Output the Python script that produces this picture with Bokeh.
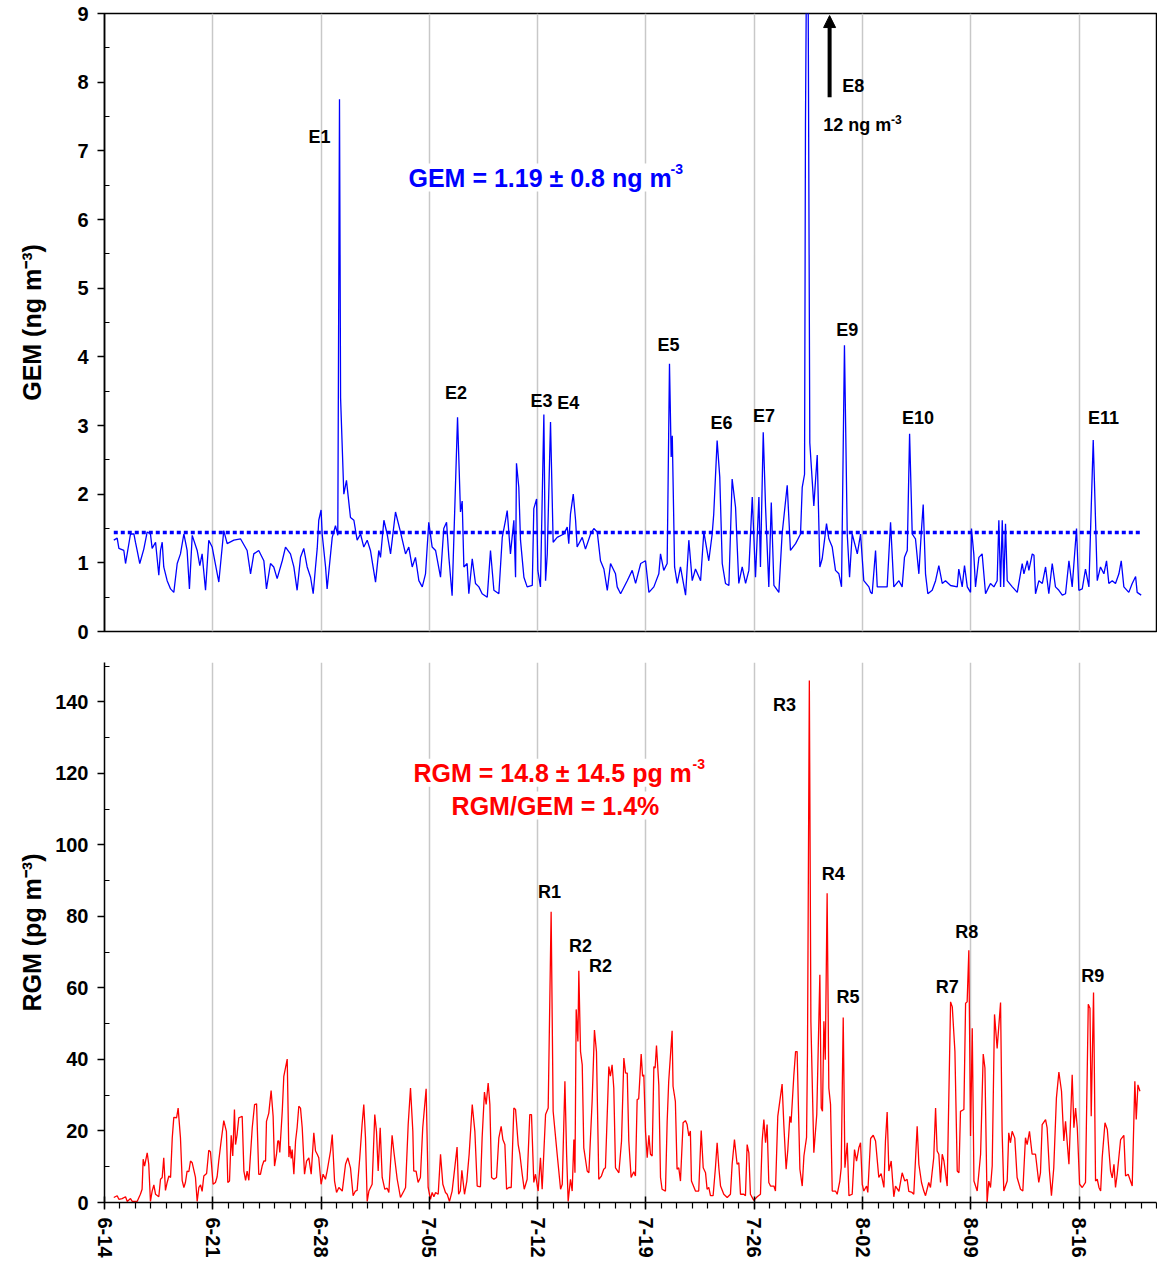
import math
from bokeh.plotting import figure
from bokeh.layouts import column
from bokeh.models import FixedTicker, Label, Arrow, NormalHead
from bokeh.embed import file_html
from bokeh.resources import INLINE

FONT = "Liberation Sans"

# ---------------- data ----------------
week_labels = ["6-14", "6-21", "6-28", "7-05", "7-12", "7-19", "7-26", "8-02", "8-09", "8-16"]
week_days = [0, 7, 14, 21, 28, 35, 42, 49, 56, 63]
day_ticks = list(range(0, 69))

# GEM (ng m-3); time in days since 14 June
gem_day = [0.60, 0.82, 0.93, 1.25, 1.36, 1.68, 1.90, 2.00, 2.11, 2.28, 2.54, 2.76, 2.97, 3.08, 3.30, 3.51,
           3.62, 3.73, 3.83, 4.05, 4.27, 4.48, 4.70, 4.91, 5.13, 5.34, 5.49, 5.67, 5.99, 6.16, 6.31, 6.53,
           6.74, 6.96, 7.39, 7.71, 7.93, 8.36, 8.79, 9.22, 9.44, 9.65, 9.97, 10.30, 10.47, 10.73, 10.94,
           11.16, 11.49, 11.70, 12.02, 12.24, 12.45, 12.67, 12.88, 13.10, 13.32, 13.49, 13.64, 13.75, 13.85,
           14.00, 14.07, 14.29, 14.39, 14.72, 14.93, 15.08, 15.19, 15.26, 15.47, 15.64, 15.90, 16.12, 16.33,
           16.55, 16.76, 16.98, 17.19, 17.52, 17.73, 17.84, 18.06, 18.27, 18.49, 18.81, 19.13, 19.46, 19.67,
           19.89, 20.10, 20.32, 20.54, 20.75, 20.96, 21.18, 21.40, 21.72, 21.93, 22.11, 22.26, 22.47, 22.82,
           23.01, 23.12, 23.23, 23.44, 23.55, 23.77, 23.98, 24.20, 24.41, 24.74, 24.95, 25.17, 25.49, 25.71,
           25.92, 26.03, 26.24, 26.46, 26.57, 26.63, 26.78, 26.89, 27.11, 27.32, 27.65, 27.75, 27.93, 28.01,
           28.18, 28.40, 28.51, 28.62, 28.83, 29.00, 29.26, 29.69, 29.91, 30.01, 30.12, 30.30, 30.45, 30.55,
           30.88, 31.09, 31.42, 31.63, 31.85, 32.06, 32.28, 32.50, 32.71, 33.03, 33.14, 33.36, 33.79, 34.11,
           34.33, 34.66, 34.97, 35.19, 35.51, 35.83, 35.94, 36.15, 36.37, 36.52, 36.63, 36.70, 36.85, 37.02,
           37.23, 37.56, 37.77, 37.99, 38.20, 38.53, 38.74, 39.06, 39.28, 39.38, 39.60, 39.77, 39.93, 40.14,
           40.36, 40.57, 40.79, 41.00, 41.22, 41.44, 41.65, 41.87, 42.08, 42.30, 42.40, 42.58, 42.73, 42.94,
           43.10, 43.27, 43.59, 43.80, 44.13, 44.34, 44.67, 44.99, 45.10, 45.25, 45.31, 45.44, 45.59, 45.85,
           46.07, 46.24, 46.39, 46.54, 46.67, 46.82, 47.04, 47.25, 47.47, 47.64, 47.83, 48.01, 48.16, 48.33,
           48.55, 48.66, 48.87, 49.08, 49.41, 49.52, 49.62, 49.84, 49.95, 50.27, 50.59, 50.81, 51.02, 51.35,
           51.56, 51.71, 51.89, 52.04, 52.21, 52.42, 52.64, 52.79, 52.92, 53.07, 53.22, 53.50, 53.72, 53.93,
           54.15, 54.36, 54.69, 55.12, 55.22, 55.44, 55.59, 55.77, 55.98, 56.04, 56.19, 56.30, 56.52, 56.73,
           56.95, 57.16, 57.27, 57.49, 57.70, 57.81, 57.92, 58.03, 58.13, 58.24, 58.35, 58.68, 59.00, 59.32,
           59.43, 59.65, 59.75, 59.97, 60.08, 60.18, 60.40, 60.62, 60.83, 61.04, 61.26, 61.47, 61.69, 61.91,
           62.12, 62.34, 62.55, 62.83, 62.98, 63.20, 63.41, 63.63, 63.91, 64.17, 64.38, 64.60, 64.77, 64.92,
           65.14, 65.35, 65.57, 65.72, 65.89, 66.21, 66.43, 66.65, 66.75, 67.01]
gem_val = [1.33, 1.36, 1.21, 1.18, 0.99, 1.42, 1.42, 1.30, 1.18, 0.99, 1.20, 1.45, 1.42, 1.21, 1.30, 0.82,
           1.18, 1.30, 0.94, 0.74, 0.62, 0.57, 0.99, 1.13, 1.42, 1.18, 0.62, 1.40, 1.18, 0.96, 1.13, 0.60,
           1.33, 1.23, 0.72, 1.47, 1.28, 1.33, 1.35, 1.18, 0.84, 1.13, 1.18, 1.03, 0.62, 0.99, 0.94,
           0.77, 1.03, 1.23, 1.13, 0.94, 0.60, 1.08, 1.21, 0.94, 0.79, 0.55, 0.94, 1.21, 1.62,
           1.77, 1.42, 0.94, 0.62, 1.37, 1.54, 1.40, 7.75, 3.40, 2.00, 2.20, 1.66, 1.62, 1.33,
           1.42, 1.23, 1.33, 1.18, 0.72, 1.18, 1.08, 1.62, 1.42, 1.13, 1.74, 1.45, 1.13, 1.23,
           0.94, 1.08, 0.74, 0.65, 0.84, 1.59, 1.23, 1.18, 0.79, 1.50, 1.59, 1.08, 0.52, 3.12,
           1.74, 1.90, 0.94, 0.99, 0.55, 1.06, 0.70, 0.65, 0.55, 0.50, 1.18, 0.60, 0.55, 1.37,
           1.62, 1.76, 1.13, 1.62, 0.79, 2.45, 2.10, 1.33, 0.79, 0.65, 0.67, 1.79, 1.93, 0.89,
           0.65, 3.16, 0.74, 1.13, 3.05, 1.30, 1.37, 1.42, 1.52, 1.28, 1.71, 2.00, 1.62, 1.23,
           1.37, 1.20, 1.42, 1.50, 1.45, 1.03, 0.91, 0.60, 0.99, 0.84, 0.65, 0.55, 0.74, 0.89,
           0.70, 0.99, 1.03, 0.57, 0.65, 0.84, 1.13, 0.89, 0.99, 3.90, 2.54, 2.85, 0.94, 0.70,
           0.94, 0.53, 1.33, 0.74, 0.91, 0.74, 1.45, 1.03, 1.42, 1.71, 2.78, 2.25, 0.99, 0.70,
           0.67, 2.22, 1.81, 0.70, 0.94, 0.70, 0.89, 1.96, 0.79, 1.96, 0.94, 2.90, 1.81, 0.65,
           1.88, 0.67, 0.57, 1.42, 2.13, 1.18, 1.28, 1.42, 2.10, 2.29, 7.40, 12.0, 2.75, 1.83,
           2.57, 0.94, 1.06, 1.33, 1.57, 1.35, 1.23, 0.89, 0.84, 0.65, 4.17, 1.42, 0.79, 1.42,
           1.23, 1.13, 1.42, 0.74, 0.65, 0.57, 0.55, 1.18, 0.65, 0.65, 0.65, 1.59, 0.65, 0.74,
           0.65, 1.08, 1.18, 2.88, 1.42, 1.35, 0.84, 1.42, 1.85, 0.84, 0.55, 0.60, 0.74, 0.96,
           0.70, 0.74, 0.67, 0.65, 0.91, 0.65, 0.96, 0.65, 0.57, 1.50, 1.13, 0.65, 1.08, 1.13,
           0.55, 0.65, 0.70, 0.65, 0.74, 1.62, 0.65, 1.62, 0.65, 1.57, 0.74, 0.65, 0.57, 0.99,
           0.84, 1.03, 0.89, 1.13, 1.11, 0.55, 0.74, 0.70, 0.94, 0.55, 0.99, 0.65, 0.60, 0.53,
           0.55, 1.03, 0.65, 1.50, 0.60, 0.62, 0.91, 0.65, 2.79, 0.74, 0.94, 0.84, 1.03, 0.70,
           0.74, 0.70, 0.84, 1.03, 0.65, 0.57, 0.70, 0.80, 0.57, 0.53]
gem_ref_level = 1.44

# RGM (pg m-3)
rgm_day = [0.60, 0.82, 0.93, 1.14, 1.36, 1.47, 1.68, 1.79, 2.11, 2.32, 2.43, 2.50, 2.59, 2.76, 2.86, 2.97,
           3.08, 3.19, 3.30, 3.51, 3.62, 3.73, 3.83, 3.94, 4.05, 4.16, 4.27, 4.38, 4.48, 4.66, 4.76, 4.91,
           5.02, 5.13, 5.23, 5.34, 5.45, 5.56, 5.67, 5.88, 5.99, 6.10, 6.21, 6.31, 6.42, 6.60, 6.74, 6.85,
           7.02, 7.17, 7.28, 7.39, 7.54, 7.71, 7.88, 7.97, 8.08, 8.19, 8.29, 8.40, 8.47, 8.57, 8.68, 8.90,
           9.01, 9.12, 9.22, 9.33, 9.55, 9.70, 9.83, 9.97, 10.08, 10.19, 10.30, 10.41, 10.47, 10.62, 10.77,
           10.90, 10.99, 11.12, 11.20, 11.27, 11.33, 11.49, 11.59, 11.81, 11.92, 11.98, 12.07, 12.13, 12.24,
           12.35, 12.45, 12.56, 12.67, 12.78, 12.93, 13.06, 13.21, 13.36, 13.53, 13.64, 13.75, 13.85, 14.00,
           14.13, 14.28, 14.39, 14.61, 14.72, 14.87, 15.00, 15.15, 15.37, 15.58, 15.73, 15.90, 16.07, 16.22,
           16.33, 16.50, 16.65, 16.76, 16.87, 16.98, 17.09, 17.30, 17.47, 17.58, 17.69, 17.82, 17.95, 18.12,
           18.27, 18.38, 18.59, 18.70, 18.92, 19.13, 19.35, 19.46, 19.63, 19.78, 19.93, 19.99, 20.14, 20.27,
           20.42, 20.57, 20.79, 20.92, 21.07, 21.18, 21.29, 21.40, 21.57, 21.72, 21.87, 22.04, 22.15, 22.30,
           22.47, 22.64, 22.79, 22.89, 23.00, 23.10, 23.27, 23.42, 23.57, 23.77, 23.94, 24.09, 24.30, 24.41,
           24.56, 24.67, 24.80, 24.91, 25.02, 25.17, 25.34, 25.49, 25.64, 25.75, 25.88, 25.99, 26.14, 26.29,
           26.46, 26.57, 26.74, 26.85, 27.00, 27.13, 27.32, 27.49, 27.60, 27.75, 27.86, 28.03, 28.18, 28.29,
           28.51, 28.68, 28.87, 29.00, 29.26, 29.48, 29.59, 29.76, 29.87, 29.97, 30.12, 30.23, 30.34, 30.41,
           30.49, 30.60, 30.66, 30.77, 30.88, 30.98, 31.20, 31.31, 31.52, 31.67, 31.80, 31.95, 32.12, 32.27,
           32.38, 32.60, 32.70, 32.81, 32.92, 33.03, 33.25, 33.42, 33.57, 33.68, 33.79, 33.89, 34.04, 34.21,
           34.32, 34.43, 34.53, 34.69, 34.78, 34.86, 34.97, 35.08, 35.19, 35.29, 35.40, 35.51, 35.59, 35.68,
           35.83, 35.94, 36.04, 36.26, 36.37, 36.47, 36.69, 36.75, 36.90, 37.01, 37.12, 37.23, 37.40, 37.55,
           37.66, 37.77, 37.87, 37.94, 38.20, 38.41, 38.57, 38.70, 38.85, 38.95, 39.06, 39.17, 39.34, 39.49,
           39.60, 39.71, 39.82, 40.03, 40.25, 40.46, 40.57, 40.72, 40.89, 41.00, 41.11, 41.32, 41.43, 41.54,
           41.65, 41.75, 41.97, 42.19, 42.40, 42.51, 42.62, 42.73, 42.83, 42.94, 43.05, 43.27, 43.37, 43.52,
           43.80, 43.91, 44.06, 44.17, 44.30, 44.38, 44.56, 44.67, 44.77, 44.95, 45.10, 45.21, 45.38, 45.44,
           45.56, 45.66, 45.85, 46.04, 46.24, 46.33, 46.41, 46.50, 46.59, 46.71, 46.82, 46.93, 47.04, 47.25,
           47.36, 47.53, 47.62, 47.75, 47.86, 48.01, 48.12, 48.33, 48.48, 48.61, 48.76, 48.87, 48.98, 49.08,
           49.26, 49.34, 49.52, 49.69, 49.84, 50.05, 50.20, 50.38, 50.48, 50.59, 50.70, 50.85, 51.02, 51.13,
           51.35, 51.56, 51.73, 51.88, 51.99, 52.20, 52.31, 52.53, 52.64, 52.81, 52.96, 53.07, 53.28, 53.39,
           53.60, 53.72, 53.82, 53.93, 54.04, 54.15, 54.26, 54.47, 54.69, 54.80, 54.97, 55.12, 55.23, 55.33,
           55.55, 55.66, 55.76, 55.87, 55.98, 56.09, 56.20, 56.41, 56.63, 56.80, 56.91, 57.05, 57.16, 57.27,
           57.38, 57.53, 57.70, 57.92, 58.02, 58.13, 58.35, 58.45, 58.56, 58.67, 58.84, 58.99, 59.21, 59.36,
           59.53, 59.64, 59.79, 59.96, 60.18, 60.39, 60.50, 60.61, 60.83, 60.93, 61.08, 61.21, 61.36, 61.53,
           61.69, 61.86, 62.01, 62.12, 62.34, 62.55, 62.66, 62.77, 62.88, 63.03, 63.20, 63.41, 63.59, 63.70,
           63.78, 63.93, 64.06, 64.17, 64.28, 64.39, 64.49, 64.67, 64.82, 65.03, 65.14, 65.25, 65.35, 65.46,
           65.68, 65.89, 66.00, 66.17, 66.43, 66.60, 66.69, 66.80, 66.93]
rgm_val = [1.4, 1.9, 0.9, 1.1, 1.6, 0.3, 1.1, 0.3, 0.3, 2.3, 3.7, 12.1, 10.2, 13.9, 10.7, 0.3,
           3.2, 4.9, 2.3, 1.6, 6.5, 7.0, 12.5, 3.4, 5.6, 7.4, 7.0, 18.1, 23.8, 23.7, 26.4, 18.1,
           6.2, 4.2, 5.6, 8.8, 8.6, 11.6, 11.1, 7.0, 0.3, 4.2, 4.9, 3.1, 7.4, 8.1, 14.6, 14.2,
           5.1, 5.6, 7.2, 11.8, 17.2, 22.9, 19.9, 5.6, 6.0, 18.8, 13.0, 26.0, 16.2, 19.0, 23.7, 24.1,
           8.8, 6.2, 8.8, 6.2, 20.9, 27.4, 27.6, 7.9, 7.9, 10.2, 11.6, 11.6, 22.7, 25.0, 31.3,
           24.1, 10.2, 13.5, 17.2, 17.2, 14.0, 25.5, 35.3, 40.1, 12.7, 15.8, 12.3, 14.8, 7.9,
           17.2, 20.9, 26.9, 26.4, 20.9, 7.9, 11.6, 12.5, 7.9, 19.5, 14.4, 13.5, 12.5, 5.1,
           7.9, 6.5, 8.8, 14.4, 19.0, 6.0, 2.8, 4.2, 3.2, 10.7, 12.5, 9.7, 1.9, 3.2,
           3.4, 12.5, 21.8, 27.4, 18.1, 0.3, 3.2, 5.1, 24.6, 19.9, 8.8, 20.9, 7.0, 3.7,
           4.0, 2.8, 18.8, 14.4, 6.5, 1.4, 3.2, 4.2, 21.8, 32.0, 19.9, 8.8, 8.8, 5.6,
           7.0, 20.9, 31.8, 4.2, 0.9, 2.8, 1.6, 2.8, 2.3, 13.5, 5.1, 2.8, 2.3, 0.3,
           3.2, 9.7, 15.5, 2.3, 3.2, 9.0, 2.3, 6.0, 13.5, 27.4, 19.9, 4.6, 4.4, 18.1,
           30.9, 27.4, 33.4, 27.4, 7.0, 6.5, 7.0, 18.1, 21.3, 17.6, 16.2, 3.7, 4.2, 4.2,
           26.4, 26.0, 16.2, 13.5, 7.9, 3.7, 6.5, 24.6, 24.6, 5.6, 7.9, 3.2, 12.5, 3.7,
           24.6, 26.4, 81.3, 25.5, 13.5, 3.7, 5.1, 33.9, 13.5, 0.3, 6.5, 3.2, 17.6, 8.3,
           54.0, 45.0, 64.8, 42.2, 38.5, 15.3, 8.8, 8.3, 28.3, 48.2, 42.2, 6.5, 7.4, 9.3,
           9.7, 38.0, 35.3, 38.5, 32.0, 9.7, 8.3, 17.2, 40.4, 36.2, 36.2, 17.2, 7.0, 8.6,
           7.4, 28.8, 29.0, 41.5, 35.3, 35.7, 19.9, 12.5, 18.8, 13.5, 13.0, 38.0, 37.6, 43.9,
           32.9, 7.0, 3.7, 3.2, 22.7, 33.9, 48.0, 32.5, 28.3, 9.3, 9.7, 6.0, 22.3, 22.9,
           21.8, 18.6, 20.0, 6.0, 3.2, 3.2, 20.1, 9.7, 8.3, 3.7, 4.2, 1.9, 1.9, 9.7,
           16.7, 9.7, 4.6, 2.3, 1.4, 2.3, 10.7, 17.6, 10.7, 11.1, 2.3, 2.3, 1.9, 16.2,
           13.9, 2.3, 0.6, 1.6, 2.3, 17.2, 23.2, 16.7, 21.8, 5.6, 4.6, 4.6, 3.2, 24.1,
           33.1, 21.8, 9.3, 14.8, 24.1, 22.3, 35.7, 42.2, 42.2, 9.3, 4.6, 13.0, 18.2, 42.0,
           146.0, 50.6, 13.9, 24.6, 63.7, 26.4, 25.5, 50.7, 39.9, 86.5, 32.0, 27.4, 3.2, 3.2,
           2.3, 6.0, 9.7, 51.7, 9.7, 16.7, 1.9, 2.3, 14.8, 11.6, 15.3, 16.7, 5.1, 3.2,
           4.6, 2.8, 17.9, 18.8, 17.2, 7.0, 8.1, 4.2, 17.2, 25.3, 8.8, 11.6, 1.6, 4.6,
           3.1, 8.3, 6.0, 6.5, 3.1, 2.8, 2.3, 21.3, 10.7, 5.6, 3.2, 1.9, 5.6, 4.2,
           12.5, 26.4, 14.4, 13.5, 5.6, 13.5, 11.6, 4.6, 56.1, 54.7, 42.2, 8.8, 8.3, 25.5,
           26.0, 55.7, 56.1, 70.5, 18.6, 48.7, 6.0, 3.2, 13.5, 41.5, 37.6, 0.0, 6.0, 4.2,
           10.2, 52.6, 43.1, 55.9, 19.9, 3.2, 6.0, 19.5, 16.7, 19.9, 18.0, 7.0, 3.7, 3.2,
           18.1, 16.2, 19.9, 13.5, 13.5, 5.6, 8.3, 21.8, 23.2, 20.9, 8.8, 1.9, 9.7, 29.2,
           36.5, 31.1, 17.2, 22.7, 10.7, 35.7, 20.9, 26.4, 20.9, 5.1, 4.2, 5.6, 55.4, 54.3,
           24.1, 58.7, 6.0, 6.5, 4.2, 3.2, 12.5, 22.3, 20.4, 8.8, 6.9, 10.7, 4.2, 7.9,
           17.6, 18.8, 7.4, 7.9, 4.6, 33.9, 23.2, 32.9, 31.1]

# event labels
gem_events = ["E1", "E2", "E3", "E4", "E5", "E6", "E7", "E9", "E10", "E11"]
gem_event_x = [13.90, 22.72, 28.24, 29.98, 36.46, 39.89, 42.63, 48.01, 52.59, 64.57]
gem_event_y = [7.20, 3.478, 3.357, 3.328, 4.177, 3.042, 3.139, 4.396, 3.114, 3.114]

rgm_events = ["R1", "R2", "R2", "R3", "R4", "R5", "R7", "R8", "R9"]
rgm_event_x = [28.77, 30.77, 32.06, 43.96, 47.11, 48.06, 54.47, 55.74, 63.88]
rgm_event_y = [86.9, 71.7, 66.1, 139.0, 91.8, 57.5, 60.3, 75.6, 63.3]

W = 1157
X_END = 68.0


def style_axis(ax, label_size="20px"):
    ax.axis_line_color = "black"
    ax.axis_line_width = 1.5
    ax.major_tick_line_color = "black"
    ax.major_tick_line_width = 1.5
    ax.minor_tick_line_color = "black"
    ax.minor_tick_line_width = 1.2
    ax.major_label_text_font = FONT
    ax.major_label_text_font_style = "bold"
    ax.major_label_text_font_size = label_size
    ax.major_label_text_color = "black"
    ax.axis_label_text_font = FONT
    ax.axis_label_text_font_style = "bold"
    ax.axis_label_text_font_size = "25px"
    ax.axis_label_text_color = "black"


def add_text(p, x, y, text, size="18px", color="black", align="center", bg=None):
    kw = dict(x=x, y=y, text=text, text_font=FONT, text_font_style="bold",
              text_font_size=size, text_color=color, text_align=align,
              text_baseline="alphabetic")
    if bg:
        kw["background_fill_color"] = bg
    p.add_layout(Label(**kw))


# ---------------- top panel: GEM ----------------
top = figure(width=W, height=646, x_range=(0, X_END), y_range=(0, 9),
             output_backend="svg", toolbar_location=None,
             min_border_left=104, min_border_right=1, min_border_top=13, min_border_bottom=15)
top.xaxis.visible = False
top.outline_line_color = "black"
top.outline_line_width = 1.5
top.ygrid.visible = False
top.xgrid.ticker = FixedTicker(ticks=week_days)
top.xgrid.grid_line_color = "#c8c8c8"
top.xgrid.grid_line_width = 1.5

ya = top.yaxis[0]
ya.ticker = FixedTicker(ticks=list(range(0, 10)), minor_ticks=[i + 0.5 for i in range(9)])
style_axis(ya)
ya.major_tick_out = 7
ya.major_tick_in = 0
ya.minor_tick_in = 5
ya.minor_tick_out = 0
ya.major_label_standoff = 9
ya.axis_label = "GEM (ng m⁻³)"
ya.axis_label_standoff = 28

top.line(gem_day, gem_val, line_color="#0000ff", line_width=1.3)
top.line([gem_day[0], gem_day[-1]], [gem_ref_level, gem_ref_level],
         line_color="#0000ff", line_width=3.5, line_dash="4 3")

for name, ex, ey in zip(gem_events, gem_event_x, gem_event_y):
    add_text(top, ex, ey, name)

# E8 off-scale marker
top.add_layout(Arrow(end=NormalHead(size=12, fill_color="black", line_color="black"),
                     x_start=46.87, y_start=7.78, x_end=46.87, y_end=8.97,
                     line_color="black", line_width=4))
add_text(top, 47.69, 7.94, "E8", align="left")
add_text(top, 46.46, 7.375, "12 ng m", align="left")
add_text(top, 50.84, 7.455, "-3", size="12px", align="left")

# mean text
add_text(top, 19.65, 6.61, "GEM = 1.19 ± 0.8 ng m", size="25px", color="#0000ff", align="left", bg="white")
add_text(top, 36.59, 6.73, "-3", size="14px", color="#0000ff", align="left", bg="white")

# ---------------- bottom panel: RGM ----------------
bot = figure(width=W, height=614, x_range=(0, X_END), y_range=(0, 151),
             output_backend="svg", toolbar_location=None,
             min_border_left=104, min_border_right=1, min_border_top=16, min_border_bottom=55)
bot.outline_line_color = None
bot.ygrid.visible = False
bot.xgrid.ticker = FixedTicker(ticks=week_days)
bot.xgrid.grid_line_color = "#c8c8c8"
bot.xgrid.grid_line_width = 1.5

yb = bot.yaxis[0]
yb.ticker = FixedTicker(ticks=list(range(0, 141, 20)), minor_ticks=list(range(10, 151, 20)))
style_axis(yb)
yb.major_tick_out = 7
yb.major_tick_in = 0
yb.minor_tick_in = 5
yb.minor_tick_out = 0
yb.major_label_standoff = 9
yb.axis_label = "RGM (pg m⁻³)"
yb.axis_label_standoff = 6

xb = bot.xaxis[0]
xb.ticker = FixedTicker(ticks=week_days, minor_ticks=day_ticks)
style_axis(xb)
xb.major_tick_out = 7
xb.major_tick_in = 6
xb.minor_tick_out = 6
xb.minor_tick_in = 0
xb.major_label_standoff = 8
xb.major_label_orientation = -math.pi / 2
xb.major_label_overrides = {float(d): lab for d, lab in zip(week_days, week_labels)}

bot.line(rgm_day, rgm_val, line_color="#ff0000", line_width=1.3)

for name, ex, ey in zip(rgm_events, rgm_event_x, rgm_event_y):
    add_text(bot, ex, ey, name)

add_text(bot, 19.97, 120.2, "RGM = 14.8 ± 14.5 pg m", size="25px", color="#ff0000", align="left", bg="white")
add_text(bot, 38.01, 122.5, "-3", size="14px", color="#ff0000", align="left", bg="white")
add_text(bot, 29.15, 111.0, "RGM/GEM = 1.4%", size="25px", color="#ff0000", align="center", bg="white")

layout = column(top, bot, spacing=0)
open("out.html", "w").write(file_html(layout, INLINE))
